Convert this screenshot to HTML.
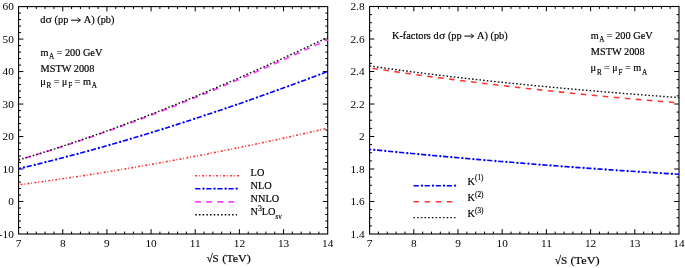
<!DOCTYPE html>
<html><head><meta charset="utf-8"><style>
html,body{margin:0;padding:0;background:#fff;overflow:hidden}
svg{display:block}
text{font-family:"Liberation Serif",serif;fill:#000;stroke:#000;stroke-width:0.18px}
svg{filter:blur(0.3px)}
.tk text{stroke-width:0}
tspan,text.sm{stroke-width:0.15px}
</style></head><body>
<svg width="685" height="268" viewBox="0 0 685 268">
<rect x="18.6" y="6.6" width="309.10" height="227.40" fill="none" stroke="#000" stroke-width="1.1"/>
<path d="M27.43 234.00v-2.4M27.43 6.60v2.4M36.26 234.00v-2.4M36.26 6.60v2.4M45.09 234.00v-2.4M45.09 6.60v2.4M53.93 234.00v-2.4M53.93 6.60v2.4M62.76 234.00v-4.8M62.76 6.60v4.8M71.59 234.00v-2.4M71.59 6.60v2.4M80.42 234.00v-2.4M80.42 6.60v2.4M89.25 234.00v-2.4M89.25 6.60v2.4M98.08 234.00v-2.4M98.08 6.60v2.4M106.91 234.00v-4.8M106.91 6.60v4.8M115.75 234.00v-2.4M115.75 6.60v2.4M124.58 234.00v-2.4M124.58 6.60v2.4M133.41 234.00v-2.4M133.41 6.60v2.4M142.24 234.00v-2.4M142.24 6.60v2.4M151.07 234.00v-4.8M151.07 6.60v4.8M159.90 234.00v-2.4M159.90 6.60v2.4M168.73 234.00v-2.4M168.73 6.60v2.4M177.57 234.00v-2.4M177.57 6.60v2.4M186.40 234.00v-2.4M186.40 6.60v2.4M195.23 234.00v-4.8M195.23 6.60v4.8M204.06 234.00v-2.4M204.06 6.60v2.4M212.89 234.00v-2.4M212.89 6.60v2.4M221.72 234.00v-2.4M221.72 6.60v2.4M230.55 234.00v-2.4M230.55 6.60v2.4M239.39 234.00v-4.8M239.39 6.60v4.8M248.22 234.00v-2.4M248.22 6.60v2.4M257.05 234.00v-2.4M257.05 6.60v2.4M265.88 234.00v-2.4M265.88 6.60v2.4M274.71 234.00v-2.4M274.71 6.60v2.4M283.54 234.00v-4.8M283.54 6.60v4.8M292.37 234.00v-2.4M292.37 6.60v2.4M301.21 234.00v-2.4M301.21 6.60v2.4M310.04 234.00v-2.4M310.04 6.60v2.4M318.87 234.00v-2.4M318.87 6.60v2.4M18.60 227.50h2.4M327.70 227.50h-2.4M18.60 221.01h2.4M327.70 221.01h-2.4M18.60 214.51h2.4M327.70 214.51h-2.4M18.60 208.01h2.4M327.70 208.01h-2.4M18.60 201.51h4.8M327.70 201.51h-4.8M18.60 195.02h2.4M327.70 195.02h-2.4M18.60 188.52h2.4M327.70 188.52h-2.4M18.60 182.02h2.4M327.70 182.02h-2.4M18.60 175.53h2.4M327.70 175.53h-2.4M18.60 169.03h4.8M327.70 169.03h-4.8M18.60 162.53h2.4M327.70 162.53h-2.4M18.60 156.03h2.4M327.70 156.03h-2.4M18.60 149.54h2.4M327.70 149.54h-2.4M18.60 143.04h2.4M327.70 143.04h-2.4M18.60 136.54h4.8M327.70 136.54h-4.8M18.60 130.05h2.4M327.70 130.05h-2.4M18.60 123.55h2.4M327.70 123.55h-2.4M18.60 117.05h2.4M327.70 117.05h-2.4M18.60 110.55h2.4M327.70 110.55h-2.4M18.60 104.06h4.8M327.70 104.06h-4.8M18.60 97.56h2.4M327.70 97.56h-2.4M18.60 91.06h2.4M327.70 91.06h-2.4M18.60 84.57h2.4M327.70 84.57h-2.4M18.60 78.07h2.4M327.70 78.07h-2.4M18.60 71.57h4.8M327.70 71.57h-4.8M18.60 65.07h2.4M327.70 65.07h-2.4M18.60 58.58h2.4M327.70 58.58h-2.4M18.60 52.08h2.4M327.70 52.08h-2.4M18.60 45.58h2.4M327.70 45.58h-2.4M18.60 39.09h4.8M327.70 39.09h-4.8M18.60 32.59h2.4M327.70 32.59h-2.4M18.60 26.09h2.4M327.70 26.09h-2.4M18.60 19.59h2.4M327.70 19.59h-2.4M18.60 13.10h2.4M327.70 13.10h-2.4" stroke="#000" stroke-width="1.0" fill="none"/>
<rect x="369.6" y="6.5" width="309.40" height="227.50" fill="none" stroke="#000" stroke-width="1.1"/>
<path d="M378.44 234.00v-2.4M378.44 6.50v2.4M387.28 234.00v-2.4M387.28 6.50v2.4M396.12 234.00v-2.4M396.12 6.50v2.4M404.96 234.00v-2.4M404.96 6.50v2.4M413.80 234.00v-4.8M413.80 6.50v4.8M422.64 234.00v-2.4M422.64 6.50v2.4M431.48 234.00v-2.4M431.48 6.50v2.4M440.32 234.00v-2.4M440.32 6.50v2.4M449.16 234.00v-2.4M449.16 6.50v2.4M458.00 234.00v-4.8M458.00 6.50v4.8M466.84 234.00v-2.4M466.84 6.50v2.4M475.68 234.00v-2.4M475.68 6.50v2.4M484.52 234.00v-2.4M484.52 6.50v2.4M493.36 234.00v-2.4M493.36 6.50v2.4M502.20 234.00v-4.8M502.20 6.50v4.8M511.04 234.00v-2.4M511.04 6.50v2.4M519.88 234.00v-2.4M519.88 6.50v2.4M528.72 234.00v-2.4M528.72 6.50v2.4M537.56 234.00v-2.4M537.56 6.50v2.4M546.40 234.00v-4.8M546.40 6.50v4.8M555.24 234.00v-2.4M555.24 6.50v2.4M564.08 234.00v-2.4M564.08 6.50v2.4M572.92 234.00v-2.4M572.92 6.50v2.4M581.76 234.00v-2.4M581.76 6.50v2.4M590.60 234.00v-4.8M590.60 6.50v4.8M599.44 234.00v-2.4M599.44 6.50v2.4M608.28 234.00v-2.4M608.28 6.50v2.4M617.12 234.00v-2.4M617.12 6.50v2.4M625.96 234.00v-2.4M625.96 6.50v2.4M634.80 234.00v-4.8M634.80 6.50v4.8M643.64 234.00v-2.4M643.64 6.50v2.4M652.48 234.00v-2.4M652.48 6.50v2.4M661.32 234.00v-2.4M661.32 6.50v2.4M670.16 234.00v-2.4M670.16 6.50v2.4M369.60 225.88h2.4M679.00 225.88h-2.4M369.60 217.75h2.4M679.00 217.75h-2.4M369.60 209.62h2.4M679.00 209.62h-2.4M369.60 201.50h4.8M679.00 201.50h-4.8M369.60 193.38h2.4M679.00 193.38h-2.4M369.60 185.25h2.4M679.00 185.25h-2.4M369.60 177.12h2.4M679.00 177.12h-2.4M369.60 169.00h4.8M679.00 169.00h-4.8M369.60 160.88h2.4M679.00 160.88h-2.4M369.60 152.75h2.4M679.00 152.75h-2.4M369.60 144.62h2.4M679.00 144.62h-2.4M369.60 136.50h4.8M679.00 136.50h-4.8M369.60 128.38h2.4M679.00 128.38h-2.4M369.60 120.25h2.4M679.00 120.25h-2.4M369.60 112.12h2.4M679.00 112.12h-2.4M369.60 104.00h4.8M679.00 104.00h-4.8M369.60 95.87h2.4M679.00 95.87h-2.4M369.60 87.75h2.4M679.00 87.75h-2.4M369.60 79.62h2.4M679.00 79.62h-2.4M369.60 71.50h4.8M679.00 71.50h-4.8M369.60 63.37h2.4M679.00 63.37h-2.4M369.60 55.25h2.4M679.00 55.25h-2.4M369.60 47.12h2.4M679.00 47.12h-2.4M369.60 39.00h4.8M679.00 39.00h-4.8M369.60 30.88h2.4M679.00 30.88h-2.4M369.60 22.75h2.4M679.00 22.75h-2.4M369.60 14.62h2.4M679.00 14.62h-2.4" stroke="#000" stroke-width="1.0" fill="none"/>
<g fill="none">
<path d="M18.60 184.81 L23.84 184.12 L29.08 183.43 L34.32 182.72 L39.56 182.01 L44.79 181.28 L50.03 180.55 L55.27 179.80 L60.51 179.04 L65.75 178.28 L70.99 177.50 L76.23 176.71 L81.47 175.92 L86.71 175.11 L91.95 174.29 L97.18 173.46 L102.42 172.63 L107.66 171.78 L112.90 170.93 L118.14 170.06 L123.38 169.19 L128.62 168.30 L133.86 167.41 L139.10 166.51 L144.34 165.59 L149.57 164.67 L154.81 163.74 L160.05 162.80 L165.29 161.85 L170.53 160.89 L175.77 159.92 L181.01 158.95 L186.25 157.96 L191.49 156.97 L196.73 155.97 L201.96 154.96 L207.20 153.94 L212.44 152.91 L217.68 151.87 L222.92 150.82 L228.16 149.77 L233.40 148.71 L238.64 147.64 L243.88 146.56 L249.12 145.47 L254.35 144.37 L259.59 143.27 L264.83 142.16 L270.07 141.04 L275.31 139.91 L280.55 138.78 L285.79 137.63 L291.03 136.48 L296.27 135.32 L301.51 134.16 L306.74 132.98 L311.98 131.80 L317.22 130.61 L322.46 129.41 L327.70 128.21" stroke="#ff3030" stroke-width="1.6" stroke-dasharray="2 1.7 0.9 2.4" stroke-dashoffset="5.0"/>
<path d="M18.60 168.69 L23.84 167.46 L29.08 166.20 L34.32 164.94 L39.56 163.65 L44.79 162.35 L50.03 161.03 L55.27 159.70 L60.51 158.35 L65.75 156.99 L70.99 155.60 L76.23 154.21 L81.47 152.79 L86.71 151.37 L91.95 149.92 L97.18 148.46 L102.42 146.99 L107.66 145.50 L112.90 144.00 L118.14 142.48 L123.38 140.95 L128.62 139.40 L133.86 137.84 L139.10 136.27 L144.34 134.68 L149.57 133.08 L154.81 131.47 L160.05 129.84 L165.29 128.19 L170.53 126.54 L175.77 124.87 L181.01 123.19 L186.25 121.50 L191.49 119.79 L196.73 118.07 L201.96 116.34 L207.20 114.60 L212.44 112.84 L217.68 111.08 L222.92 109.30 L228.16 107.51 L233.40 105.71 L238.64 103.89 L243.88 102.07 L249.12 100.24 L254.35 98.39 L259.59 96.53 L264.83 94.67 L270.07 92.79 L275.31 90.90 L280.55 89.00 L285.79 87.10 L291.03 85.18 L296.27 83.25 L301.51 81.31 L306.74 79.37 L311.98 77.41 L317.22 75.45 L322.46 73.47 L327.70 71.49" stroke="#0000ff" stroke-width="1.6" stroke-dasharray="5.2 5.86" stroke-dashoffset="2.75"/>
<path d="M18.60 168.69 L23.84 167.46 L29.08 166.20 L34.32 164.94 L39.56 163.65 L44.79 162.35 L50.03 161.03 L55.27 159.70 L60.51 158.35 L65.75 156.99 L70.99 155.60 L76.23 154.21 L81.47 152.79 L86.71 151.37 L91.95 149.92 L97.18 148.46 L102.42 146.99 L107.66 145.50 L112.90 144.00 L118.14 142.48 L123.38 140.95 L128.62 139.40 L133.86 137.84 L139.10 136.27 L144.34 134.68 L149.57 133.08 L154.81 131.47 L160.05 129.84 L165.29 128.19 L170.53 126.54 L175.77 124.87 L181.01 123.19 L186.25 121.50 L191.49 119.79 L196.73 118.07 L201.96 116.34 L207.20 114.60 L212.44 112.84 L217.68 111.08 L222.92 109.30 L228.16 107.51 L233.40 105.71 L238.64 103.89 L243.88 102.07 L249.12 100.24 L254.35 98.39 L259.59 96.53 L264.83 94.67 L270.07 92.79 L275.31 90.90 L280.55 89.00 L285.79 87.10 L291.03 85.18 L296.27 83.25 L301.51 81.31 L306.74 79.37 L311.98 77.41 L317.22 75.45 L322.46 73.47 L327.70 71.49" stroke="#0000ff" stroke-width="2.3" stroke-linecap="round" stroke-dasharray="0.01 11.05" stroke-dashoffset="-5.550000000000001"/>
<path d="M18.60 159.88 L23.84 158.37 L29.08 156.83 L34.32 155.27 L39.56 153.69 L44.79 152.09 L50.03 150.46 L55.27 148.81 L60.51 147.14 L65.75 145.45 L70.99 143.74 L76.23 142.01 L81.47 140.26 L86.71 138.49 L91.95 136.69 L97.18 134.88 L102.42 133.05 L107.66 131.20 L112.90 129.33 L118.14 127.44 L123.38 125.53 L128.62 123.61 L133.86 121.66 L139.10 119.70 L144.34 117.73 L149.57 115.73 L154.81 113.72 L160.05 111.69 L165.29 109.65 L170.53 107.59 L175.77 105.51 L181.01 103.42 L186.25 101.32 L191.49 99.19 L196.73 97.06 L201.96 94.91 L207.20 92.74 L212.44 90.57 L217.68 88.37 L222.92 86.17 L228.16 83.95 L233.40 81.72 L238.64 79.48 L243.88 77.22 L249.12 74.95 L254.35 72.67 L259.59 70.38 L264.83 68.08 L270.07 65.77 L275.31 63.44 L280.55 61.11 L285.79 58.77 L291.03 56.41 L296.27 54.05 L301.51 51.67 L306.74 49.29 L311.98 46.90 L317.22 44.50 L322.46 42.09 L327.70 39.68" stroke="#ff40ff" stroke-width="1.7" stroke-dasharray="5.9 5.2" stroke-dashoffset="4.4"/>
<path d="M18.60 159.99 L23.84 158.43 L29.08 156.85 L34.32 155.24 L39.56 153.61 L44.79 151.96 L50.03 150.29 L55.27 148.60 L60.51 146.88 L65.75 145.15 L70.99 143.40 L76.23 141.63 L81.47 139.83 L86.71 138.02 L91.95 136.19 L97.18 134.34 L102.42 132.47 L107.66 130.59 L112.90 128.68 L118.14 126.76 L123.38 124.82 L128.62 122.86 L133.86 120.88 L139.10 118.89 L144.34 116.88 L149.57 114.85 L154.81 112.80 L160.05 110.74 L165.29 108.66 L170.53 106.57 L175.77 104.46 L181.01 102.34 L186.25 100.20 L191.49 98.04 L196.73 95.87 L201.96 93.69 L207.20 91.49 L212.44 89.27 L217.68 87.05 L222.92 84.80 L228.16 82.55 L233.40 80.28 L238.64 78.00 L243.88 75.70 L249.12 73.40 L254.35 71.08 L259.59 68.74 L264.83 66.40 L270.07 64.04 L275.31 61.67 L280.55 59.29 L285.79 56.90 L291.03 54.50 L296.27 52.09 L301.51 49.66 L306.74 47.23 L311.98 44.79 L317.22 42.33 L322.46 39.87 L327.70 37.39" stroke="#111" stroke-width="1.4" stroke-dasharray="1.6 2.09" stroke-dashoffset="0.0"/>
<path d="M369.60 149.37 L374.84 149.90 L380.09 150.42 L385.33 150.93 L390.58 151.45 L395.82 151.96 L401.06 152.46 L406.31 152.97 L411.55 153.47 L416.80 153.96 L422.04 154.46 L427.28 154.95 L432.53 155.43 L437.77 155.91 L443.02 156.39 L448.26 156.87 L453.51 157.34 L458.75 157.81 L463.99 158.28 L469.24 158.74 L474.48 159.20 L479.73 159.65 L484.97 160.10 L490.21 160.55 L495.46 161.00 L500.70 161.44 L505.95 161.87 L511.19 162.31 L516.43 162.74 L521.68 163.17 L526.92 163.59 L532.17 164.01 L537.41 164.42 L542.65 164.84 L547.90 165.25 L553.14 165.65 L558.39 166.05 L563.63 166.45 L568.87 166.85 L574.12 167.24 L579.36 167.62 L584.61 168.01 L589.85 168.39 L595.09 168.76 L600.34 169.14 L605.58 169.51 L610.83 169.87 L616.07 170.23 L621.32 170.59 L626.56 170.94 L631.80 171.30 L637.05 171.64 L642.29 171.99 L647.54 172.32 L652.78 172.66 L658.02 172.99 L663.27 173.32 L668.51 173.65 L673.76 173.97 L679.00 174.28" stroke="#0000ff" stroke-width="1.6" stroke-dasharray="5.2 5.86" stroke-dashoffset="3.6"/>
<path d="M369.60 149.37 L374.84 149.90 L380.09 150.42 L385.33 150.93 L390.58 151.45 L395.82 151.96 L401.06 152.46 L406.31 152.97 L411.55 153.47 L416.80 153.96 L422.04 154.46 L427.28 154.95 L432.53 155.43 L437.77 155.91 L443.02 156.39 L448.26 156.87 L453.51 157.34 L458.75 157.81 L463.99 158.28 L469.24 158.74 L474.48 159.20 L479.73 159.65 L484.97 160.10 L490.21 160.55 L495.46 161.00 L500.70 161.44 L505.95 161.87 L511.19 162.31 L516.43 162.74 L521.68 163.17 L526.92 163.59 L532.17 164.01 L537.41 164.42 L542.65 164.84 L547.90 165.25 L553.14 165.65 L558.39 166.05 L563.63 166.45 L568.87 166.85 L574.12 167.24 L579.36 167.62 L584.61 168.01 L589.85 168.39 L595.09 168.76 L600.34 169.14 L605.58 169.51 L610.83 169.87 L616.07 170.23 L621.32 170.59 L626.56 170.94 L631.80 171.30 L637.05 171.64 L642.29 171.99 L647.54 172.32 L652.78 172.66 L658.02 172.99 L663.27 173.32 L668.51 173.65 L673.76 173.97 L679.00 174.28" stroke="#0000ff" stroke-width="2.3" stroke-linecap="round" stroke-dasharray="0.01 11.05" stroke-dashoffset="-4.700000000000001"/>
<path d="M369.60 68.02 L374.84 68.80 L380.09 69.56 L385.33 70.32 L390.58 71.07 L395.82 71.82 L401.06 72.56 L406.31 73.29 L411.55 74.02 L416.80 74.74 L422.04 75.45 L427.28 76.16 L432.53 76.86 L437.77 77.56 L443.02 78.25 L448.26 78.93 L453.51 79.61 L458.75 80.28 L463.99 80.94 L469.24 81.60 L474.48 82.25 L479.73 82.90 L484.97 83.54 L490.21 84.17 L495.46 84.80 L500.70 85.42 L505.95 86.03 L511.19 86.64 L516.43 87.24 L521.68 87.84 L526.92 88.43 L532.17 89.01 L537.41 89.59 L542.65 90.16 L547.90 90.73 L553.14 91.28 L558.39 91.84 L563.63 92.38 L568.87 92.92 L574.12 93.46 L579.36 93.98 L584.61 94.50 L589.85 95.02 L595.09 95.53 L600.34 96.03 L605.58 96.53 L610.83 97.02 L616.07 97.50 L621.32 97.98 L626.56 98.45 L631.80 98.91 L637.05 99.37 L642.29 99.83 L647.54 100.27 L652.78 100.71 L658.02 101.15 L663.27 101.58 L668.51 102.00 L673.76 102.41 L679.00 102.82" stroke="#ff3333" stroke-width="1.55" stroke-dasharray="5.5 5.55" stroke-dashoffset="-2.9"/>
<path d="M369.60 65.91 L374.84 66.67 L380.09 67.42 L385.33 68.16 L390.58 68.89 L395.82 69.61 L401.06 70.31 L406.31 71.02 L411.55 71.71 L416.80 72.39 L422.04 73.06 L427.28 73.73 L432.53 74.38 L437.77 75.03 L443.02 75.67 L448.26 76.30 L453.51 76.92 L458.75 77.54 L463.99 78.14 L469.24 78.74 L474.48 79.33 L479.73 79.91 L484.97 80.49 L490.21 81.06 L495.46 81.62 L500.70 82.17 L505.95 82.72 L511.19 83.26 L516.43 83.79 L521.68 84.32 L526.92 84.84 L532.17 85.35 L537.41 85.86 L542.65 86.36 L547.90 86.86 L553.14 87.35 L558.39 87.83 L563.63 88.31 L568.87 88.78 L574.12 89.24 L579.36 89.71 L584.61 90.16 L589.85 90.61 L595.09 91.06 L600.34 91.50 L605.58 91.94 L610.83 92.37 L616.07 92.79 L621.32 93.22 L626.56 93.64 L631.80 94.05 L637.05 94.46 L642.29 94.87 L647.54 95.27 L652.78 95.67 L658.02 96.06 L663.27 96.46 L668.51 96.84 L673.76 97.23 L679.00 97.61" stroke="#111" stroke-width="1.4" stroke-dasharray="1.6 2.09" stroke-dashoffset="0.0"/>
<path d="M195.1 175.7H239.6" stroke="#ff3030" stroke-width="1.6" stroke-dasharray="2 1.7 0.9 2.4" stroke-dashoffset="0.0"/>
<path d="M195.2 188.7H237.3" stroke="#0000ff" stroke-width="1.6" stroke-dasharray="5.2 5.86" stroke-dashoffset="0.0"/>
<path d="M195.2 188.7H237.3" stroke="#0000ff" stroke-width="2.3" stroke-linecap="round" stroke-dasharray="0.01 11.05" stroke-dashoffset="-8.3"/>
<path d="M195.1 201.8H234" stroke="#ff40ff" stroke-width="1.7" stroke-dasharray="5.9 5.2" stroke-dashoffset="0.0"/>
<path d="M195.2 214.8H237" stroke="#111" stroke-width="1.4" stroke-dasharray="1.6 2.09" stroke-dashoffset="0.0"/>
<path d="M413.6 185.7H456" stroke="#0000ff" stroke-width="1.6" stroke-dasharray="5.2 5.86" stroke-dashoffset="0.0"/>
<path d="M413.6 185.7H456" stroke="#0000ff" stroke-width="2.3" stroke-linecap="round" stroke-dasharray="0.01 11.05" stroke-dashoffset="-8.3"/>
<path d="M413.6 201.8H453" stroke="#ff3333" stroke-width="1.55" stroke-dasharray="5.5 5.55" stroke-dashoffset="0.0"/>
<path d="M413.4 217.6H455.5" stroke="#111" stroke-width="1.4" stroke-dasharray="1.6 2.09" stroke-dashoffset="0.0"/>
</g>
<g font-size="11.3" class="tk"><text x="18.60" y="246.6" text-anchor="middle">7</text><text x="369.60" y="246.6" text-anchor="middle">7</text><text x="62.76" y="246.6" text-anchor="middle">8</text><text x="413.80" y="246.6" text-anchor="middle">8</text><text x="106.91" y="246.6" text-anchor="middle">9</text><text x="458.00" y="246.6" text-anchor="middle">9</text><text x="151.07" y="246.6" text-anchor="middle">10</text><text x="502.20" y="246.6" text-anchor="middle">10</text><text x="195.23" y="246.6" text-anchor="middle">11</text><text x="546.40" y="246.6" text-anchor="middle">11</text><text x="239.39" y="246.6" text-anchor="middle">12</text><text x="590.60" y="246.6" text-anchor="middle">12</text><text x="283.54" y="246.6" text-anchor="middle">13</text><text x="634.80" y="246.6" text-anchor="middle">13</text><text x="327.70" y="246.6" text-anchor="middle">14</text><text x="679.00" y="246.6" text-anchor="middle">14</text><text x="13.9" y="237.80" text-anchor="end">-10</text><text x="13.9" y="205.31" text-anchor="end">0</text><text x="13.9" y="172.83" text-anchor="end">10</text><text x="13.9" y="140.34" text-anchor="end">20</text><text x="13.9" y="107.86" text-anchor="end">30</text><text x="13.9" y="75.37" text-anchor="end">40</text><text x="13.9" y="42.89" text-anchor="end">50</text><text x="13.9" y="10.40" text-anchor="end">60</text><text x="364.6" y="237.80" text-anchor="end">1.4</text><text x="364.6" y="205.30" text-anchor="end">1.6</text><text x="364.6" y="172.80" text-anchor="end">1.8</text><text x="364.6" y="140.30" text-anchor="end">2</text><text x="364.6" y="107.80" text-anchor="end">2.2</text><text x="364.6" y="75.30" text-anchor="end">2.4</text><text x="364.6" y="42.80" text-anchor="end">2.6</text><text x="364.6" y="10.30" text-anchor="end">2.8</text></g>
<text x="40.3" y="23.0" font-size="10.3">d</text>
<text x="45.6" y="23.0" font-size="10.3" textLength="6.3" lengthAdjust="spacingAndGlyphs">σ</text>
<text x="54.6" y="23.0" font-size="10.3">(pp</text>
<path d="M71.06 20.2H80.10000000000001" stroke="#000" stroke-width="1.0" fill="none"/><path d="M77.5 17.9L80.5 20.2L77.5 22.5" stroke="#000" stroke-width="0.9" fill="none"/>
<text x="83.8" y="23.0" font-size="10.3">A) (pb)</text>
<text x="392" y="38.9" font-size="10.3">K-factors</text>
<text x="433.6" y="38.9" font-size="10.3">d</text>
<text x="438.90000000000003" y="38.9" font-size="10.3" textLength="6.3" lengthAdjust="spacingAndGlyphs">σ</text>
<text x="447.90000000000003" y="38.9" font-size="10.3">(pp</text>
<path d="M464.36 36.1H473.4" stroke="#000" stroke-width="1.0" fill="none"/><path d="M470.8 33.800000000000004L473.8 36.1L470.8 38.4" stroke="#000" stroke-width="0.9" fill="none"/>
<text x="477.1" y="38.9" font-size="10.3">A) (pb)</text>
<text x="40.5" y="55.8" font-size="10.3">m<tspan font-size="7.2" dx="0.4" dy="3.5">A</tspan></text>
<text x="56.5" y="55.8" font-size="10.3">= 200 GeV</text>
<text x="40.5" y="71.5" font-size="10.3">MSTW 2008</text>
<text x="40.3" y="85.0" font-size="10.3" textLength="5.6" lengthAdjust="spacingAndGlyphs">μ</text>
<text class="sm" x="46.6" y="88.2" font-size="7.2">R</text>
<text x="53.7" y="85.0" font-size="10.3">=</text>
<text x="62.0" y="85.0" font-size="10.3" textLength="5.2" lengthAdjust="spacingAndGlyphs">μ</text>
<text class="sm" x="68.3" y="88.2" font-size="7.2">F</text>
<text x="74.6" y="85.0" font-size="10.3">= m</text>
<text class="sm" x="91.8" y="88.2" font-size="7.2">A</text>
<text x="590.8" y="38.9" font-size="10.3">m<tspan font-size="7.2" dx="0.4" dy="3.5">A</tspan></text>
<text x="606.8" y="38.9" font-size="10.3">= 200 GeV</text>
<text x="590.8" y="54.6" font-size="10.3">MSTW 2008</text>
<text x="590.5999999999999" y="71.4" font-size="10.3" textLength="5.6" lengthAdjust="spacingAndGlyphs">μ</text>
<text class="sm" x="596.9" y="74.60000000000001" font-size="7.2">R</text>
<text x="604.0" y="71.4" font-size="10.3">=</text>
<text x="612.3" y="71.4" font-size="10.3" textLength="5.2" lengthAdjust="spacingAndGlyphs">μ</text>
<text class="sm" x="618.5999999999999" y="74.60000000000001" font-size="7.2">F</text>
<text x="624.9" y="71.4" font-size="10.3">= m</text>
<text class="sm" x="642.0999999999999" y="74.60000000000001" font-size="7.2">A</text>
<text x="250.6" y="175.7" font-size="10.3">LO</text>
<text x="250.6" y="188.6" font-size="10.3">NLO</text>
<text x="250.6" y="201.8" font-size="10.3">NNLO</text>
<text x="250.6" y="214.8" font-size="10.3">N<tspan font-size="7.8" dy="-4.3">3</tspan><tspan dx="-0.3" dy="4.3">LO</tspan><tspan font-size="7.2" dy="3.8">sv</tspan></text>
<text x="467.4" y="185.2" font-size="10.3">K<tspan font-size="7.2" dx="0.2" dy="-4.8">(1)</tspan></text>
<text x="467.4" y="201.3" font-size="10.3">K<tspan font-size="7.2" dx="0.2" dy="-4.8">(2)</tspan></text>
<text x="467.4" y="217.3" font-size="10.3">K<tspan font-size="7.2" dx="0.2" dy="-4.8">(3)</tspan></text>
<text x="206.4" y="262.4" font-size="11.5">√</text>
<text x="212.6" y="262.4" font-size="11">S</text>
<text x="222.2" y="262.4" font-size="11" textLength="28.6" lengthAdjust="spacingAndGlyphs">(TeV)</text>
<text x="554.6999999999999" y="264.2" font-size="11.5">√</text>
<text x="560.9" y="264.2" font-size="11">S</text>
<text x="570.5" y="264.2" font-size="11" textLength="29.2" lengthAdjust="spacingAndGlyphs">(TeV)</text>
</svg>
</body></html>
